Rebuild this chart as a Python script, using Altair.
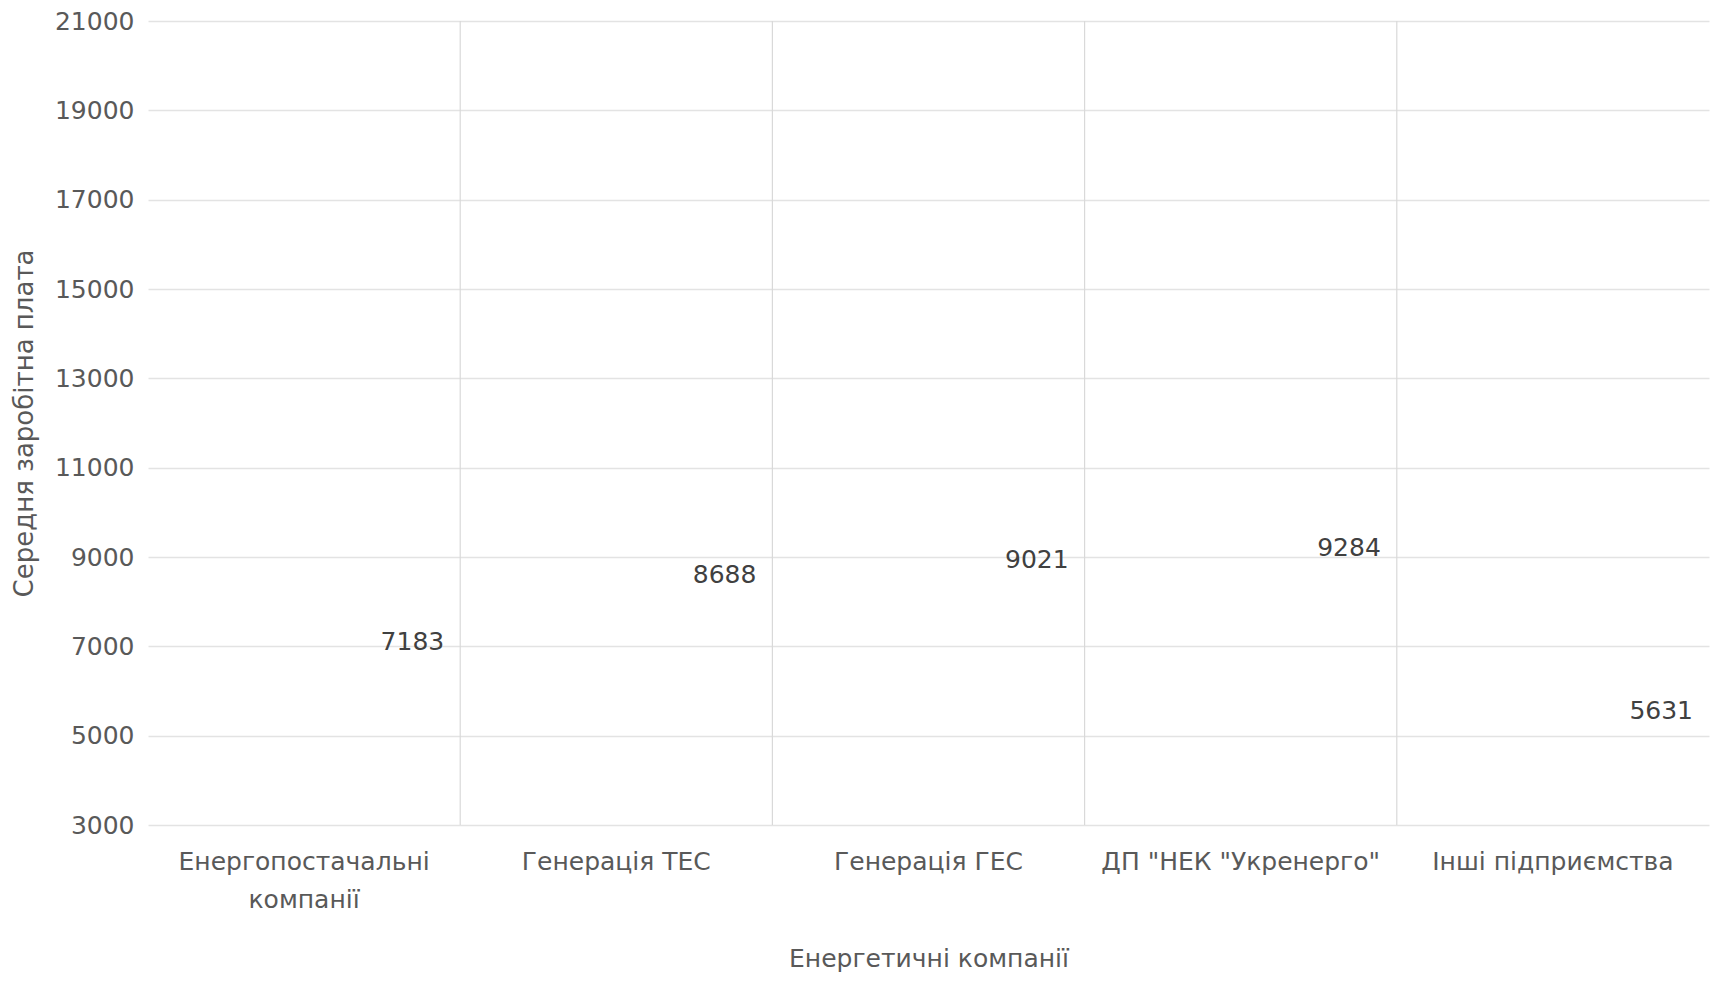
import altair as alt
import pandas as pd

companies = [
    "Енергопостачальні компанії",
    "Генерація ТЕС",
    "Генерація ГЕС",
    "ДП \"НЕК \"Укренерго\"",
    "Інші підприємства",
]
salaries = [7183, 8688, 9021, 9284, 5631]
y_ticks = [3000, 5000, 7000, 9000, 11000, 13000, 15000, 17000, 19000, 21000]

df = pd.DataFrame({"company": companies, "salary": salaries})
bounds = pd.DataFrame({"company": companies[:-1]})

FONT = "DejaVu Sans"
x_scale = alt.Scale(domain=companies, paddingInner=0, paddingOuter=0)
y_scale = alt.Scale(domain=[3000, 21000], nice=False, zero=False)

x_axis = alt.Axis(
    title="Енергетичні компанії",
    labelAngle=0,
    grid=False,
    ticks=False,
    domain=False,
    labelFont=FONT,
    labelFontSize=25,
    labelColor="#595959",
    labelPadding=24,
    labelLineHeight=38,
    labelLimit=400,
    labelExpr="datum.label == 'Енергопостачальні компанії' ? ['Енергопостачальні', 'компанії'] : datum.label",
    titleFont=FONT,
    titleFontSize=25,
    titleFontWeight="normal",
    titleColor="#595959",
    titleY=133,
    titleBaseline="middle",
)

y_axis = alt.Axis(
    title="Середня заробітна плата",
    values=y_ticks,
    format="d",
    grid=True,
    gridColor="#e3e3e3",
    gridWidth=1.5,
    ticks=False,
    domain=False,
    labelFont=FONT,
    labelFontSize=25,
    labelColor="#595959",
    labelPadding=14,
    titleFont=FONT,
    titleFontSize=26,
    titleFontWeight="normal",
    titleColor="#595959",
    titleX=-124,
    titleBaseline="middle",
)

rules = alt.Chart(bounds).mark_rule(color="#d9d9d9", strokeWidth=1.2).encode(
    x=alt.X("company:N", scale=x_scale, bandPosition=1, axis=x_axis),
)

texts = alt.Chart(df).mark_text(
    align="right",
    baseline="middle",
    dx=-16,
    dy=4,
    font=FONT,
    fontSize=25,
    color="#404040",
).encode(
    x=alt.X("company:N", scale=x_scale, bandPosition=1, axis=x_axis),
    y=alt.Y("salary:Q", scale=y_scale, axis=y_axis),
    text=alt.Text("salary:Q", format="d"),
)

chart = (
    alt.layer(rules, texts)
    .properties(
        width=1561,
        height=804,
        background="white",
        autosize=alt.AutoSizeParams(type="none"),
        padding={"left": 140, "top": 13, "right": 19, "bottom": 150},
    )
    .configure_view(strokeWidth=0, stroke="transparent")
)

chart.save("out.html", embed_options={"renderer": "svg", "actions": False})
